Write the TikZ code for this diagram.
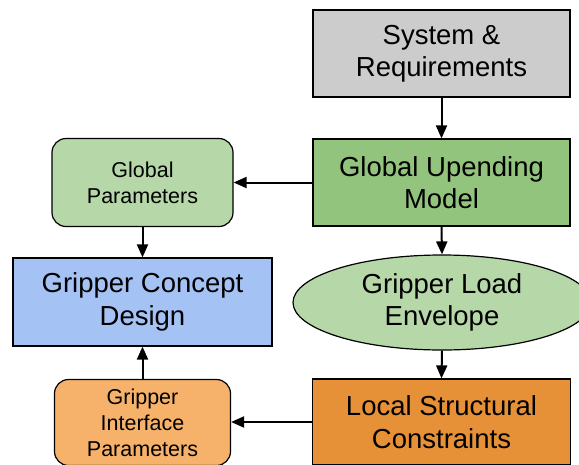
\documentclass[tikz,border=0pt]{standalone}
\usepackage{fontspec}
\setmainfont{Liberation Sans}
\usetikzlibrary{shapes.geometric,arrows.meta}
\definecolor{cgray}{HTML}{CCCCCC}
\definecolor{cgreen}{HTML}{93C47D}
\definecolor{clgreen}{HTML}{B6D7A8}
\definecolor{cblue}{HTML}{A4C2F4}
\definecolor{corange}{HTML}{E69138}
\definecolor{clorange}{HTML}{F6B26B}
\tikzset{
  x=1pt, y=1pt,
  bigbox/.style={draw=black, line width=1.2pt, rectangle, inner sep=0pt, align=center,
    font=\fontsize{27.5}{32.5}\selectfont},
  smallbox/.style={draw=black, line width=1.2pt, rectangle, rounded corners=14pt, inner sep=0pt, align=center,
    font=\fontsize{21.5}{26}\selectfont},
  conn/.style={line width=2pt, -{Triangle[length=13pt,width=11pt]}},
}
\begin{document}
\begin{tikzpicture}
\useasboundingbox (0,0) rectangle (579,-464);
\node[bigbox, fill=cgray, minimum width=257pt, minimum height=87pt] (sys) at (441.5,-53.5) {System \&\\Requirements};
\node[bigbox, fill=cgreen, minimum width=257pt, minimum height=87pt] (gum) at (441.5,-182.5) {Global Upending\\Model};
\node[smallbox, fill=clgreen, minimum width=181pt, minimum height=88pt] (gp) at (142.5,-182.5) {Global\\Parameters};
\node[bigbox, fill=cblue, minimum width=259pt, minimum height=88pt] (gcd) at (142.5,-302) {Gripper Concept\\Design};
\node[bigbox, ellipse, fill=clgreen, minimum width=298pt, minimum height=95pt] (ell) at (442,-302.5) {Gripper Load\\Envelope};
\node[bigbox, fill=corange, minimum width=258pt, minimum height=86pt] (lsc) at (441.5,-422) {Local Structural\\Constraints};
\node[smallbox, fill=clorange, minimum width=176pt, minimum height=86pt] (gip) at (142.5,-422.5) {Gripper\\Interface\\Parameters};
\draw[conn] (sys.south) -- (gum.north);
\draw[conn] (gum.west) -- (gp.east);
\draw[conn] (gp.south) -- (gcd.north);
\draw[conn] (gum.south) -- (ell.north);
\draw[conn] (ell.south) -- (lsc.north);
\draw[conn] (lsc.west) -- (gip.east |- lsc.west);
\draw[conn] (gip.north) -- (gcd.south);
\end{tikzpicture}
\end{document}
